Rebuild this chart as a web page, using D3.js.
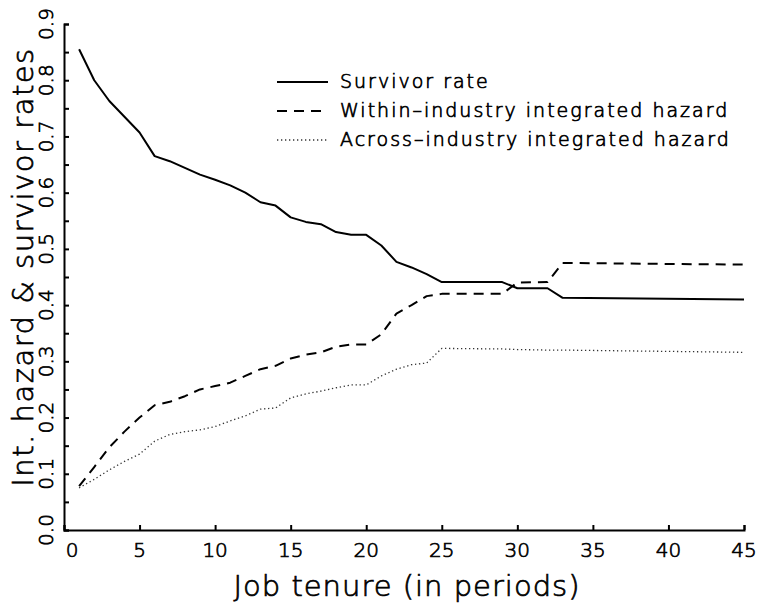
<!DOCTYPE html>
<html>
<head>
<meta charset="utf-8">
<script src="https://cdn.jsdelivr.net/npm/d3@7"></script>
<style>
    body { margin: 0; background: #fff; }
    svg { display: block; font-family: 'DejaVu Sans', sans-serif; font-weight: 200; }
    .axis path, .axis line { stroke: #000; stroke-width: 2; }
    .label { fill: #000; stroke: #000; stroke-width: 0.7px; }
</style>
</head>
<body>
<svg id="chart" width="758" height="606"></svg>
<script>
/**
 * Survivor rate and integrated hazards by job tenure.
 */
const tenure = [1, 2, 3, 4, 5, 6, 7, 8, 9, 10, 11, 12, 13, 14, 15, 16, 17, 18, 19, 20,
    21, 22, 23, 24, 25, 29, 30, 32, 33, 45];

const survivorRate = [0.855, 0.800, 0.763, 0.735, 0.707, 0.665, 0.656, 0.644, 0.632, 0.623,
    0.613, 0.600, 0.583, 0.577, 0.556, 0.548, 0.544, 0.530, 0.525, 0.525,
    0.506, 0.477, 0.467, 0.455, 0.441, 0.441, 0.430, 0.430, 0.413, 0.410];

const withinHazard = [0.078, 0.112, 0.147, 0.175, 0.200, 0.222, 0.228, 0.238, 0.250, 0.256,
    0.262, 0.274, 0.286, 0.292, 0.305, 0.312, 0.316, 0.326, 0.330, 0.330,
    0.348, 0.385, 0.400, 0.416, 0.420, 0.420, 0.440, 0.441, 0.475, 0.472];

const acrossHazard = [0.075, 0.090, 0.107, 0.122, 0.135, 0.158, 0.170, 0.175, 0.178, 0.184,
    0.194, 0.203, 0.215, 0.217, 0.235, 0.242, 0.247, 0.253, 0.258, 0.258,
    0.274, 0.286, 0.294, 0.297, 0.323, 0.322, 0.321, 0.320, 0.320, 0.316];

const seriesNames = ['Survivor rate', 'Within\u2013industry integrated hazard', 'Across\u2013industry integrated hazard'];

const xTicks = d3.range(0, 46, 5),
    yTicks = d3.range(0, 19).map(i => i * 0.05),
    yLabels = d3.range(0, 10).map(i => i / 10);

const xTitle = 'Job tenure (in periods)',
    yTitle = 'Int. hazard & survivor rates';

/**
 * Visual configs.
 */
const plot = { left: 64, right: 744, top: 24, bottom: 530 };
const styles = [
    { width: 2, dash: null, color: '#000' },
    { width: 2, dash: '10,7', color: '#000' },
    { width: 1.3, dash: '1.3,2.7', color: '#333' }
];

const svg = d3.select('#chart');

const x = d3.scaleLinear().domain([0, 45]).range([plot.left, plot.right]),
    y = d3.scaleLinear().domain([0, 0.9]).range([plot.bottom, plot.top]);

// Axes with inward ticks
svg.append('g').attr('class', 'axis')
    .attr('transform', 'translate(0,' + plot.bottom + ')')
    .call(d3.axisBottom(x).tickValues(xTicks).tickSizeInner(-5).tickSizeOuter(-5).tickFormat(''));

svg.append('g').attr('class', 'axis')
    .attr('transform', 'translate(' + plot.left + ',0)')
    .call(d3.axisLeft(y).tickValues(yTicks).tickSizeInner(-5).tickSizeOuter(-5).tickFormat(''));

// Tick labels
svg.append('g').selectAll('text').data(xTicks).join('text')
    .attr('class', 'label')
    .attr('x', d => x(d) + (d === 0 ? 8 : 0))
    .attr('y', 557)
    .attr('text-anchor', 'middle')
    .style('font-size', '20px')
    .text(d => d);

svg.append('g').selectAll('text').data(yLabels).join('text')
    .attr('class', 'label')
    .attr('transform', d => 'translate(53,' + y(d) + ') rotate(-90)')
    .attr('text-anchor', 'middle')
    .style('font-size', '20px')
    .text(d3.format('.1f'));

// Axis titles
svg.append('text').attr('class', 'label')
    .attr('x', 407).attr('y', 596)
    .attr('text-anchor', 'middle')
    .style('font-size', '29px')
    .style('letter-spacing', '1px')
    .text(xTitle);

svg.append('text').attr('class', 'label')
    .attr('transform', 'translate(33,267) rotate(-90)')
    .attr('text-anchor', 'middle')
    .style('font-size', '29px')
    .style('letter-spacing', '1.5px')
    .text(yTitle);

// Lines
const line = d3.line()
    .x((d, i) => x(tenure[i]))
    .y(d => y(d));

[survivorRate, withinHazard, acrossHazard].forEach((values, i) => {
    svg.append('path')
        .datum(values)
        .attr('d', line)
        .attr('fill', 'none')
        .attr('stroke', styles[i].color)
        .attr('stroke-width', styles[i].width)
        .attr('stroke-dasharray', styles[i].dash)
        .attr('stroke-linejoin', 'round');
});

// Legend
const legend = svg.append('g').attr('transform', 'translate(277,82)');
const rows = legend.selectAll('g').data(seriesNames).join('g')
    .attr('transform', (d, i) => 'translate(0,' + i * 29 + ')');

rows.append('line')
    .attr('x1', 0).attr('x2', 51)
    .attr('stroke', (d, i) => styles[i].color)
    .attr('stroke-width', (d, i) => styles[i].width)
    .attr('stroke-dasharray', (d, i) => styles[i].dash);

rows.append('text').attr('class', 'label')
    .attr('x', 63).attr('y', 6)
    .style('font-size', '19px')
    .style('letter-spacing', '2px')
    .text(d => d);
</script>
</body>
</html>
